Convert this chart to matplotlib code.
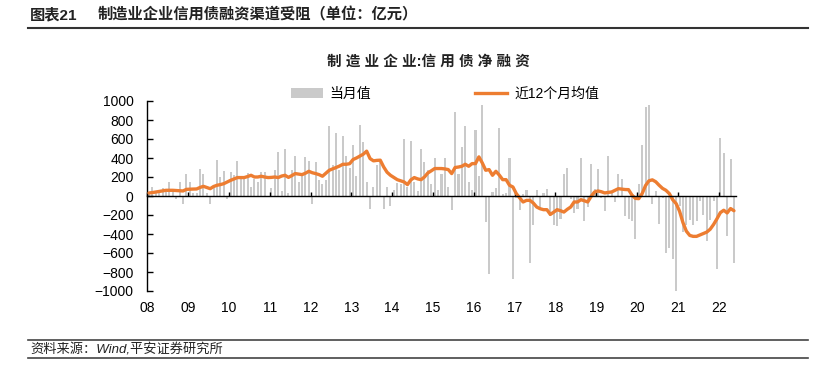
import matplotlib
matplotlib.use('Agg')
import matplotlib.pyplot as plt
import matplotlib.transforms as mtransforms
from matplotlib.patches import Patch
from matplotlib.lines import Line2D
import numpy as np

plt.rcParams['font.family'] = ['Liberation Sans', 'Noto Sans CJK SC']

# x axis categories (one tick per January)
year_labels = ['08', '09', '10', '11', '12', '13', '14', '15',
               '16', '17', '18', '19', '20', '21', '22']

# 当月值, monthly net financing (亿元), Jan 2008 - May 2022
monthly = [
    20, 95, 30, 50, 80, 40, 150, 60, -30, 150, -80, 235,            # 2008
    150, 30, 30, 280, 235, 30, -80, 110, 375, 195, 265, -30,        # 2009
    252, 217, 368, 192, 175, 238, 95, 182, 147, 252, 252, -10,      # 2010
    80, 275, 465, 55, 490, 30, 275, 425, 150, 210, 410, 365,        # 2011
    -80, 360, 170, 130, 165, 735, 330, 665, 275, 635, 420, 300,     # 2012
    540, 210, 750, 570, 150, -135, 95, 325, 375, -135, 95, -100,    # 2013
    60, 135, 130, 600, 90, 580, 150, 50, 500, 360, 270, 130,        # 2014
    400, 60, 235, 395, 100, -150, 885, 230, 515, 735, 150, 60,      # 2015
    700, 210, 957, -275, -820, 40, 85, 720, 20, 30, 400, -870,      # 2016
    -20, -150, 20, 60, -700, -310, 60, -150, 35, 70, -210, -300,    # 2017
    -315, -238, 228, 298, -30, -175, -140, 403, -263, -120, 333, 70,  # 2018
    280, -20, -158, 420, 35, -60, 228, 182, -210, -245, -263, -455,   # 2019
    130, 535, 940, 955, -88, 52, -298, -20, -595, -545, -665, -1015,  # 2020
    -110, -383, -300, -250, -310, -260, -50, -200, -470, -250, -50, -770,  # 2021
    612, 455, -420, 385, -700,                                      # 2022
]

# 近12个月均值
avg12 = [
    32, 36, 42, 48, 55, 60, 60, 60, 58, 55, 53, 70,                 # 2008
    72, 73, 74, 90, 102, 90, 77, 100, 113, 120, 130, 148,           # 2009
    165, 180, 194, 194, 194, 205, 218, 200, 200, 208, 200, 194,     # 2010
    196, 200, 194, 210, 218, 196, 215, 236, 230, 225, 240, 260,     # 2011
    245, 236, 225, 208, 240, 271, 285, 300, 315, 334, 334, 340,     # 2012
    384, 400, 420, 440, 472, 394, 370, 375, 377, 306, 250, 218,     # 2013
    195, 172, 160, 148, 120, 170, 194, 180, 172, 200, 243, 265,     # 2014
    289, 289, 289, 285, 278, 236, 300, 305, 313, 334, 313, 341,     # 2015
    341, 412, 348, 271, 278, 218, 260, 220, 172, 172, 113, 95,      # 2016
    25, -20, -63, -46, -46, -74, -116, -134, -144, -144, -194, -170,  # 2017
    -144, -155, -169, -140, -116, -63, -63, -39, -50, -63, -4, 42,    # 2018
    53, 45, 32, 38, 42, 60, 77, 72, 68, 67, 10, -25,                # 2019
    -28, 25, 110, 160, 170, 150, 113, 80, 60, 25, -40, -80,         # 2020
    -160, -280, -370, -415, -425, -425, -410, -395, -380, -350, -300, -240,  # 2021
    -175, -150, -178, -132, -155,                                   # 2022
]

W, H = 835, 387
fig = plt.figure(figsize=(W / 100, H / 100), dpi=100)
ax = fig.add_axes([147.3 / W, 1 - 291 / H, (736 - 147.3) / W, 190 / H])

bar_color = '#CACACA'
line_color = '#ED7D31'

x = np.arange(len(monthly))
ax.bar(x, monthly, width=0.6, color=bar_color, zorder=1)
ax.plot(x, avg12, color=line_color, lw=2.4, zorder=3, solid_capstyle='round')

ax.set_xlim(-0.5, 172.6)
ax.set_ylim(-1000, 1000)
ax.set_yticks(range(-1000, 1001, 200))
ax.spines['top'].set_visible(False)
ax.spines['right'].set_visible(False)
ax.spines['bottom'].set_position(('data', 0))
ax.spines['bottom'].set_zorder(4)
ax.spines['left'].set_linewidth(1.0)
ax.spines['bottom'].set_linewidth(1.0)
ax.tick_params(axis='y', direction='in', length=4, width=1, labelsize=10, pad=10)

year_starts = np.arange(len(year_labels)) * 12 - 0.5
ax.set_xticks(year_starts)
ax.tick_params(axis='x', direction='in', length=3, width=1, labelbottom=False)
trans = mtransforms.blended_transform_factory(ax.transData, ax.transAxes)
for pos, lab in zip(year_starts, year_labels):
    ax.text(pos, -0.09, lab, transform=trans, ha='center', va='center', fontsize=10)

# legend
handles = [Patch(facecolor=bar_color, edgecolor='none'),
           Line2D([], [], color=line_color, lw=2.4)]
fig.legend(handles, ['当月值', '近12个月均值'], loc='center',
           bbox_to_anchor=(445 / W, 1 - 94 / H), ncol=2, frameon=False,
           fontsize=10, handlelength=2.3, handletextpad=0.5, columnspacing=7.5)

# chart title
fig.text(428 / W, 1 - 62 / H, '制 造 业 企 业:信 用 债 净 融 资', ha='center', va='center',
         fontsize=10.5, fontweight='bold', color='#222222')

# header
fig.text(30 / W, 1 - 15 / H, '图表21', ha='left', va='center', fontsize=11,
         fontweight='bold', color='#222222')
fig.text(98 / W, 1 - 15 / H, '制造业企业信用债融资渠道受阻（单位：亿元）', ha='left',
         va='center', fontsize=11, fontweight='bold', color='#222222')
fig.add_artist(Line2D([28 / W, 808 / W], [1 - 28 / H] * 2, color='#333333', lw=1.5,
                      transform=fig.transFigure))

# footer
fig.add_artist(Line2D([28 / W, 808 / W], [1 - 340 / H] * 2, color='#444444', lw=1.2,
                      transform=fig.transFigure))
fig.add_artist(Line2D([28 / W, 808 / W], [1 - 358 / H] * 2, color='#444444', lw=1.2,
                      transform=fig.transFigure))
fig.text(30 / W, 1 - 350 / H, '资料来源：Wind,平安证券研究所', ha='left', va='center',
         fontsize=9.5, style='italic', color='#222222')

fig.savefig('out.png', dpi=100, facecolor='white')
